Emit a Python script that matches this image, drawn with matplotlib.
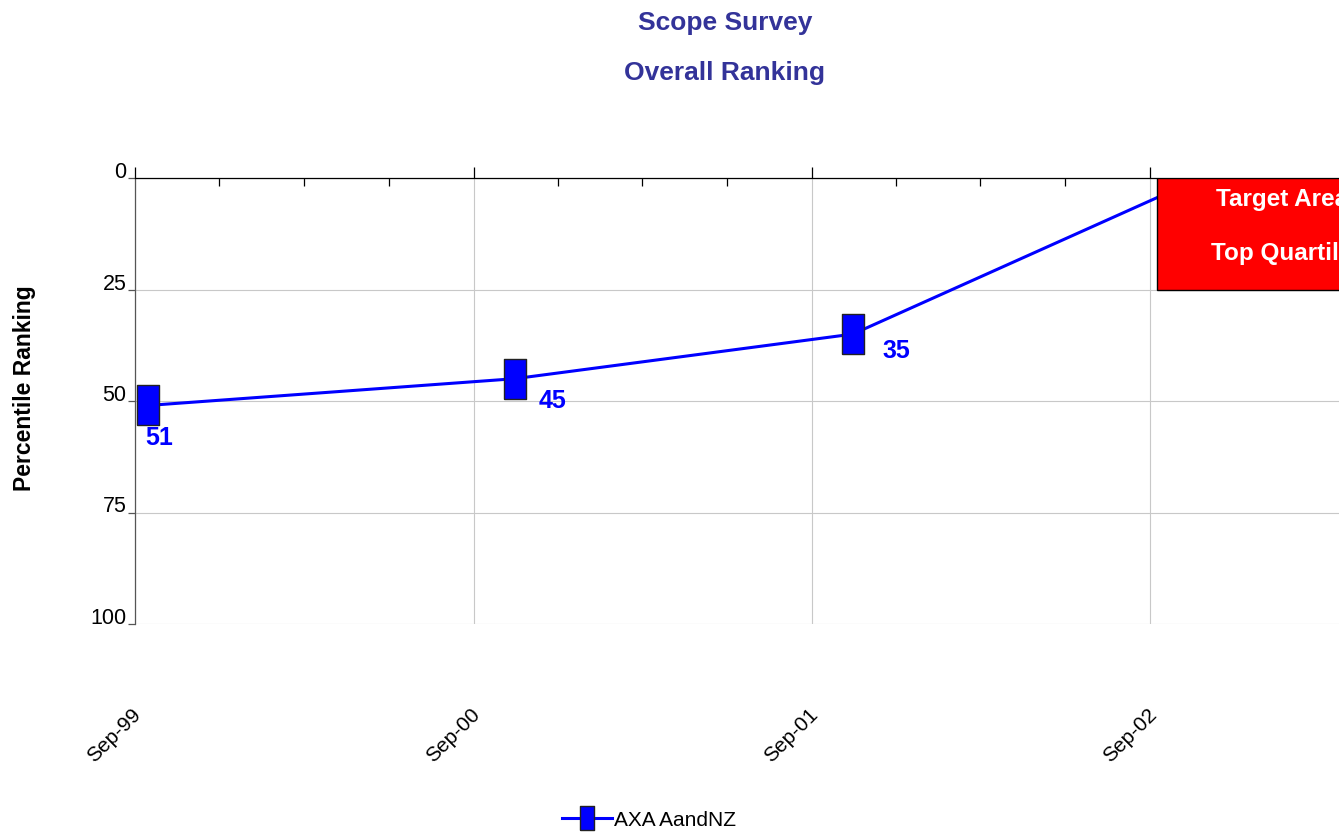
import numpy as np
import matplotlib
matplotlib.use("Agg")
import matplotlib.pyplot as plt
import matplotlib.dates as mdates
from matplotlib.patches import Rectangle
from matplotlib.transforms import ScaledTranslation

plt.rcParams['font.family'] = ['Liberation Sans', 'DejaVu Sans']

# data
survey_dates = ['1999-09-15', '2000-10-15', '2001-10-15', '2002-10-15']
ranking = [51, 45, 35, 1]
series_name = 'AXA AandNZ'
y_ticks = [0, 25, 50, 75, 100]

# target area (top quartile)
target_start = '2002-09-08'
target_end = '2003-06-01'
target_lo, target_hi = 0, 25
target_text_x = '2003-01-21'

x = mdates.datestr2num(survey_dates)

W, H = 1339, 835
fig = plt.figure(figsize=(W / 100, H / 100), dpi=100)
# axes wider than the figure: right part is cut off as in the original
x_start = mdates.datestr2num('1999-09-01')
x_end = mdates.datestr2num('2003-06-01')
px_per_day = 338.3 / 365.25
ax = fig.add_axes([135 / W, (H - 624) / H, (x_end - x_start) * px_per_day / W, 446 / H])
ax.set_xlim(x_start, x_end)
ax.set_ylim(100, 0)

blue = '#0000ff'
box_marker = [(-0.56, -1), (0.56, -1), (0.56, 1), (-0.56, 1), (-0.56, -1)]
ax.plot(x, ranking, color=blue, lw=2.2, zorder=3, marker=box_marker,
        markersize=29.5, markerfacecolor=blue, markeredgecolor='#222222',
        markeredgewidth=1, label=series_name)

# value labels (the last one sits under the target box, so it is not shown)
offsets = [(11, -33), (38, -22), (44, -17)]
for xi, yi, (dx, dy) in zip(x[:3], ranking[:3], offsets):
    ax.annotate(str(yi), (xi, yi), xytext=(dx * 0.72, dy * 0.72),
                textcoords='offset points', ha='center', va='center',
                color=blue, fontsize=18, fontweight='bold', zorder=4)

# target area box
x0 = mdates.datestr2num(target_start)
x1 = mdates.datestr2num(target_end)
ax.add_patch(Rectangle((x0, target_lo), x1 - x0, target_hi - target_lo,
                       facecolor='#ff0000', edgecolor='black', lw=1, zorder=5))
tx = mdates.datestr2num(target_text_x)
ax.text(tx, 4.9, 'Target Area', color='white', fontsize=17.5, fontweight='bold',
        ha='center', va='center', zorder=6)
ax.text(tx, 16.9, 'Top Quartile', color='white', fontsize=17.5, fontweight='bold',
        ha='center', va='center', zorder=6)

# axes styling
ax.xaxis.set_major_locator(mdates.MonthLocator(bymonth=9))
ax.xaxis.set_minor_locator(mdates.MonthLocator(bymonth=[3, 6, 12]))
ax.xaxis.set_major_formatter(mdates.DateFormatter('%b-%y'))
ax.set_yticks(y_ticks)

ax.grid(True, which='major', color='#c8c8c8', lw=0.8, zorder=0)
ax.set_axisbelow(True)
for s in ['right', 'bottom']:
    ax.spines[s].set_visible(False)
ax.spines['top'].set_color('black')
ax.spines['top'].set_linewidth(0.9)
ax.spines['left'].set_color('#555555')
ax.spines['left'].set_linewidth(0.9)

ax.tick_params(axis='x', which='major', bottom=False, top=True, labelbottom=True,
               labeltop=False, direction='out', length=8, width=0.9, color='black',
               pad=50, labelsize=15)
ax.tick_params(axis='x', which='minor', bottom=False, top=True, direction='in',
               length=6, width=0.9, color='black')
ax.tick_params(axis='y', direction='out', length=5, width=0.9, color='#555555',
               pad=1, labelsize=15.5)

for lbl in ax.get_xticklabels():
    lbl.set_rotation(45)
    lbl.set_ha('right')
    lbl.set_va('top')
    lbl.set_transform(lbl.get_transform() + ScaledTranslation(0.10, 0, fig.dpi_scale_trans))
for lbl in ax.get_yticklabels():
    lbl.set_va('baseline')

# titles and axis label
title_color = '#333399'
fig.text(725 / W, 1 - 23 / H, 'Scope Survey', ha='center', va='center',
         color=title_color, fontsize=19, fontweight='bold')
fig.text(725 / W, 1 - 73 / H, 'Overall Ranking', ha='center', va='center',
         color=title_color, fontsize=19, fontweight='bold')
fig.text(25 / W, 1 - 388 / H, 'Percentile Ranking', rotation=90, ha='center',
         va='center', fontsize=16.5, fontweight='bold')

leg = fig.legend(loc='center', bbox_to_anchor=(649 / W, 1 - 820 / H), frameon=False,
                 fontsize=15, handlelength=2.4, handletextpad=0.05, markerscale=0.6)

fig.savefig('out.png', dpi=100)
